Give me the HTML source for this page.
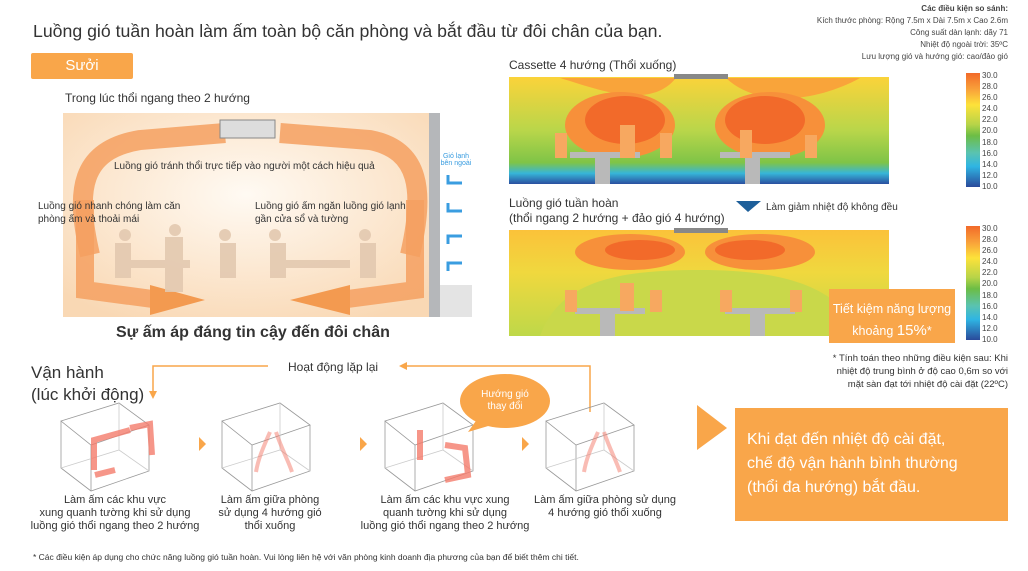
<!DOCTYPE html>
<html><head><meta charset="utf-8"><style>
body{margin:0;width:1028px;height:571px;background:#fff;font-family:"Liberation Sans","DejaVu Sans",sans-serif;color:#333;position:relative;overflow:hidden}
.a{position:absolute;white-space:nowrap}
</style></head><body>
<svg class="a" style="left:0;top:0" width="1028" height="571">
<defs>
<radialGradient id="room" cx="0.5" cy="0.4" r="0.7"><stop offset="0" stop-color="#fffaf3"/><stop offset="1" stop-color="#f9d8b4"/></radialGradient>
<linearGradient id="h1" x1="0" y1="0" x2="0" y2="1">
<stop offset="0" stop-color="#fbd33a"/><stop offset="0.5" stop-color="#b9d64a"/><stop offset="0.8" stop-color="#7fc447"/><stop offset="0.9" stop-color="#37b6d8"/><stop offset="1" stop-color="#2a4fa0"/></linearGradient>
<linearGradient id="h2" x1="0" y1="0" x2="0" y2="1">
<stop offset="0" stop-color="#fbc23a"/><stop offset="0.4" stop-color="#f0d83e"/><stop offset="1" stop-color="#bed849"/></linearGradient>
<linearGradient id="cb" x1="0" y1="0" x2="0" y2="1">
<stop offset="0" stop-color="#f26a2a"/><stop offset="0.15" stop-color="#f9a43a"/><stop offset="0.28" stop-color="#fde23a"/><stop offset="0.45" stop-color="#b8d448"/><stop offset="0.55" stop-color="#6cbd45"/><stop offset="0.7" stop-color="#5ac3b0"/><stop offset="0.82" stop-color="#2fb5e3"/><stop offset="1" stop-color="#2a4a9a"/></linearGradient>
<g id="box" stroke="#999" stroke-width="0.8" fill="none">
<path d="M0,18 L58,0 L88,22 L30,42 Z M0,18 L0,65 L30,88 L88,68 L88,22 M30,42 L30,88"/>
<path d="M0,65 L58,47 L88,68 M58,0 L58,47" stroke="#ccc"/>
</g>
</defs>
<!-- room -->
<rect x="63" y="113" width="366" height="204" fill="url(#room)"/>
<rect x="429" y="113" width="11" height="204" fill="#b5b7ba"/>
<rect x="440" y="285" width="32" height="32" fill="#e4e4e4"/>
<path d="M90,255 C75,190 80,150 140,140 L225,133 M280,133 L370,140 C420,150 425,190 410,255" fill="none" stroke="#f5a060" stroke-width="20" opacity="0.85"/>
<path d="M85,200 L85,290 L160,300" fill="none" stroke="#f5a060" stroke-width="18" opacity="0.85"/>
<path d="M415,200 L415,290 L340,300" fill="none" stroke="#f5a060" stroke-width="18" opacity="0.85"/>
<polygon points="150,285 205,300 150,315" fill="#f39a50"/>
<polygon points="350,285 290,300 350,315" fill="#f39a50"/>
<rect x="220" y="120" width="55" height="18" fill="#ddd" stroke="#888"/>
<g fill="#e3c9b0" opacity="0.9">
<rect x="120" y="260" width="70" height="8"/><rect x="270" y="260" width="80" height="8"/>
<circle cx="125" cy="235" r="6"/><circle cx="175" cy="230" r="6"/><circle cx="225" cy="235" r="6"/><circle cx="275" cy="235" r="6"/><circle cx="365" cy="235" r="6"/>
<rect x="165" y="237" width="18" height="55"/><rect x="115" y="243" width="16" height="35"/><rect x="220" y="243" width="16" height="35"/><rect x="270" y="243" width="16" height="35"/><rect x="360" y="243" width="16" height="35"/>
</g>
<g stroke="#3a9de0" stroke-width="3" fill="none">
<path d="M462,183 L448,183 L448,175"/><path d="M462,211 L448,211 L448,203"/><path d="M462,236 L448,236 L448,244"/><path d="M462,263 L448,263 L448,271"/>
</g>
<!-- heatmap 1 -->
<rect x="509" y="77" width="380" height="107" fill="url(#h1)"/>
<path d="M560,78 C600,90 650,110 676,78 Z" fill="#f9a43a"/>
<path d="M726,78 C760,110 820,100 860,78 Z" fill="#f9a43a"/>
<ellipse cx="620" cy="125" rx="55" ry="33" fill="#f7903a"/><ellipse cx="625" cy="120" rx="40" ry="24" fill="#f26a2a"/>
<ellipse cx="770" cy="125" rx="55" ry="33" fill="#f7903a"/><ellipse cx="765" cy="120" rx="40" ry="24" fill="#f26a2a"/>
<rect x="674" y="74" width="54" height="5" fill="#888"/>
<g fill="#b9b9b9"><rect x="570" y="152" width="70" height="6"/><rect x="720" y="152" width="70" height="6"/><rect x="595" y="156" width="15" height="28"/><rect x="745" y="156" width="15" height="28"/></g>
<g fill="#f7a860"><rect x="555" y="133" width="12" height="25"/><rect x="620" y="125" width="15" height="33"/><rect x="660" y="133" width="12" height="25"/><rect x="740" y="130" width="12" height="28"/><rect x="805" y="135" width="12" height="23"/></g>
<rect x="966" y="73" width="14" height="114" fill="url(#cb)"/>
<!-- heatmap 2 -->
<rect x="509" y="230" width="380" height="106" fill="url(#h2)"/>
<ellipse cx="630" cy="252" rx="55" ry="18" fill="#f7903a"/><ellipse cx="640" cy="250" rx="35" ry="10" fill="#f26a2a"/>
<ellipse cx="760" cy="252" rx="55" ry="18" fill="#f7903a"/><ellipse cx="750" cy="250" rx="35" ry="10" fill="#f26a2a"/>
<path d="M540,336 C560,280 620,270 700,270 C780,270 840,285 860,336 Z" fill="#c9d84a"/>
<rect x="674" y="228" width="54" height="5" fill="#888"/>
<g fill="#b9b9b9"><rect x="575" y="308" width="70" height="6"/><rect x="725" y="308" width="70" height="6"/><rect x="600" y="312" width="15" height="24"/><rect x="750" y="312" width="15" height="24"/></g>
<g fill="#f7a860"><rect x="565" y="290" width="12" height="22"/><rect x="620" y="283" width="14" height="28"/><rect x="650" y="290" width="12" height="22"/><rect x="720" y="290" width="12" height="22"/><rect x="790" y="290" width="12" height="22"/></g>
<rect x="966" y="226" width="14" height="114" fill="url(#cb)"/>
<polygon points="736,201 761,201 748,212" fill="#1d5f9a"/>
<rect x="829" y="289" width="126" height="54" fill="#f9a64a"/>
<!-- bottom flow -->
<g stroke="#f9a64a" stroke-width="1.5" fill="none">
<path d="M268,366 L153,366 L153,392"/><path d="M590,412 L590,366 L405,366"/>
</g>
<polygon points="149,391 157,391 153,399" fill="#f9a64a"/>
<polygon points="399,366 407,362 407,370" fill="#f9a64a"/>
<use href="#box" x="61" y="403"/>
<use href="#box" x="222" y="403"/>
<use href="#box" x="385" y="403"/>
<use href="#box" x="546" y="403"/>
<g stroke="#f47c6c" stroke-width="6" fill="none" opacity="0.8">
<path d="M95,475 L115,470" /><path d="M94,470 L94,440 L130,430"/><path d="M130,428 L150,424 L152,455"/>
<path d="M420,430 L420,460"/><path d="M445,445 L465,448 L468,475 L445,480"/>
</g>
<g stroke="#f47c6c" stroke-width="4" fill="none" opacity="0.5">
<path d="M270,432 C262,450 258,460 256,472"/><path d="M276,432 C282,450 288,460 292,472"/>
<path d="M598,432 C590,450 586,460 584,472"/><path d="M604,432 C610,450 616,460 620,472"/>
</g>
<polygon points="199,437 206,444 199,451" fill="#f9a64a"/>
<polygon points="360,437 367,444 360,451" fill="#f9a64a"/>
<polygon points="522,437 529,444 522,451" fill="#f9a64a"/>
<ellipse cx="505" cy="401" rx="45" ry="27" fill="#f9a64a"/>
<polygon points="478,418 468,432 495,424" fill="#f9a64a"/>
<polygon points="697,405 727,428 697,450" fill="#f9a64a"/>
<rect x="735" y="408" width="273" height="113" fill="#f9a64a"/>
</svg>

<div class="a" style="left:33px;top:21px;font-size:17.7px;color:#333">Luồng gió tuần hoàn làm ấm toàn bộ căn phòng và bắt đầu từ đôi chân của bạn.</div>
<div class="a" style="right:20px;top:3px;font-size:8px;line-height:12px;text-align:right;color:#444;white-space:normal;width:260px"><b>Các điều kiện so sánh:</b><br>Kích thước phòng: Rộng 7.5m x Dài 7.5m x Cao 2.6m<br>Công suất dàn lạnh: dãy 71<br>Nhiệt độ ngoài trời: 35ºC<br>Lưu lượng gió và hướng gió: cao/đảo gió</div>
<div class="a" style="left:31px;top:53px;width:102px;height:26px;background:#f9a64a;border-radius:2px;color:#fff;font-size:15px;line-height:26px;text-align:center">Sưởi</div>
<div class="a" style="left:65px;top:91px;font-size:12px">Trong lúc thổi ngang theo 2 hướng</div>
<div class="a" style="left:114px;top:161px;font-size:10px">Luồng gió tránh thổi trực tiếp vào người một cách hiệu quả</div>
<div class="a" style="left:38px;top:200px;font-size:10px;line-height:13px">Luồng gió nhanh chóng làm căn<br>phòng ấm và thoải mái</div>
<div class="a" style="left:255px;top:200px;font-size:10px;line-height:13px">Luồng gió ấm ngăn luồng gió lạnh<br>gần cửa sổ và tường</div>
<div class="a" style="left:440px;top:153px;font-size:7px;line-height:7px;color:#3a9de0;text-align:center;width:32px">Gió lạnh<br>bên ngoài</div>
<div class="a" style="left:116px;top:324px;font-size:16px;font-weight:bold">Sự ấm áp đáng tin cậy đến đôi chân</div>
<div class="a" style="left:509px;top:58px;font-size:12px">Cassette 4 hướng (Thổi xuống)</div>
<div class="a" style="left:509px;top:196px;font-size:12px;line-height:15px">Luồng gió tuần hoàn<br>(thổi ngang 2 hướng + đảo gió 4 hướng)</div>
<div class="a" style="left:766px;top:202px;font-size:10px">Làm giảm nhiệt độ không đều</div>
<div class="a" style="left:982px;top:70px;font-size:8px;line-height:11.1px;color:#444">30.0<br>28.0<br>26.0<br>24.0<br>22.0<br>20.0<br>18.0<br>16.0<br>14.0<br>12.0<br>10.0</div>
<div class="a" style="left:982px;top:223px;font-size:8px;line-height:11.1px;color:#444">30.0<br>28.0<br>26.0<br>24.0<br>22.0<br>20.0<br>18.0<br>16.0<br>14.0<br>12.0<br>10.0</div>
<div class="a" style="left:829px;top:298px;width:126px;text-align:center;color:#fff;font-size:12.5px;line-height:22px">Tiết kiệm năng lượng<br>khoảng <span style="font-size:15px">15%</span>*</div>
<div class="a" style="right:20px;top:352px;font-size:9.5px;line-height:13px;text-align:right">* Tính toán theo những điều kiện sau: Khi<br>nhiệt độ trung bình ở độ cao 0,6m so với<br>mặt sàn đạt tới nhiệt độ cài đặt (22ºC)</div>
<div class="a" style="left:31px;top:362px;font-size:17px;line-height:22px">Vận hành<br>(lúc khởi động)</div>
<div class="a" style="left:288px;top:360px;font-size:12px">Hoạt động lặp lại</div>
<div class="a" style="left:470px;top:389px;width:70px;text-align:center;color:#fff;font-size:10px;line-height:12px">Hướng gió<br>thay đổi</div>
<div class="a" style="left:20px;top:494px;width:190px;text-align:center;font-size:11px;line-height:13px">Làm ấm các khu vực<br>xung quanh tường khi sử dụng<br>luồng gió thổi ngang theo 2 hướng</div>
<div class="a" style="left:215px;top:494px;width:110px;text-align:center;font-size:11px;line-height:13px">Làm ấm giữa phòng<br>sử dụng 4 hướng gió<br>thổi xuống</div>
<div class="a" style="left:350px;top:494px;width:190px;text-align:center;font-size:11px;line-height:13px">Làm ấm các khu vực xung<br>quanh tường khi sử dụng<br>luồng gió thổi ngang theo 2 hướng</div>
<div class="a" style="left:520px;top:494px;width:170px;text-align:center;font-size:11px;line-height:13px">Làm ấm giữa phòng sử dụng<br>4 hướng gió thổi xuống</div>
<div class="a" style="left:747px;top:428px;color:#fff;font-size:16px;line-height:24px">Khi đạt đến nhiệt độ cài đặt,<br>chế độ vận hành bình thường<br>(thổi đa hướng) bắt đầu.</div>
<div class="a" style="left:33px;top:552px;font-size:8.5px">* Các điều kiện áp dụng cho chức năng luồng gió tuần hoàn. Vui lòng liên hệ với văn phòng kinh doanh địa phương của bạn để biết thêm chi tiết.</div>
</body></html>
